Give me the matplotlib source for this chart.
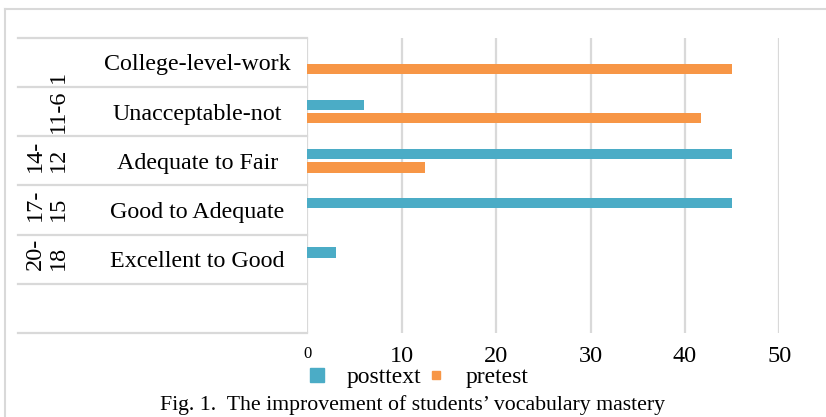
import numpy as np
import matplotlib; matplotlib.use('Agg')
import matplotlib.pyplot as plt
from matplotlib.lines import Line2D

plt.rcParams['font.family'] = ['Liberation Serif', 'DejaVu Serif']

# data (top to bottom), last row is an empty category
groups = ["1", "11-6", "14-\n12", "17-\n15", "20-\n18", ""]
categories = ["College-level-work", "Unacceptable-not", "Adequate to Fair",
              "Good to Adequate", "Excellent to Good", ""]
posttext = [0, 6, 45, 45, 3, 0]
pretest = [45, 41.7, 12.5, 0, 0, 0]
xticks = [0, 10, 20, 30, 40, 50]

c_post = '#4BACC6'
c_pre = '#F79646'
c_grid = '#D9D9D9'

fig = plt.figure(figsize=(8.26, 4.17), dpi=100)
ax = fig.add_axes([0.372, 0.2014, 0.5715, 0.7082])

n = len(categories)
y = np.arange(n)
h = 0.21
off = 0.137
ax.barh(y - off, posttext, height=h, color=c_post, zorder=3)
ax.barh(y + off, pretest, height=h, color=c_pre, zorder=3)

ax.set_xlim(0, 50)
ax.set_ylim(n - 0.5, -0.5)
ax.set_xticks(xticks)
ax.set_xticklabels([str(t) for t in xticks], fontsize=17.5)
ax.get_xticklabels()[0].set_fontsize(12)
ax.tick_params(axis='x', length=0, pad=9)
ax.grid(axis='x', color=c_grid, lw=1.6, zorder=0)
for s in ax.spines.values():
    s.set_visible(False)

# category labels
ax.set_yticks(y)
ax.set_yticklabels(categories, fontsize=17.3)
for lab in ax.get_yticklabels():
    lab.set_horizontalalignment('center')
ax.tick_params(axis='y', length=0, pad=79)

# group labels (rotated)
tr = ax.get_yaxis_transform()
for i, g in enumerate(groups):
    if g == "":
        continue
    yy = i - 0.1 if "\n" in g else i
    if g == "1":
        yy = i + 0.3
    ax.text(-0.505, yy, g, transform=tr, rotation=90, fontsize=17.5,
            ha='right', va='center', multialignment='left', linespacing=1.1)

# separators in label area
for b in np.arange(-0.5, n + 0.5):
    ax.plot([-0.613, 0], [b, b], transform=tr, color=c_grid, lw=1.6,
            clip_on=False, zorder=1)

# frame lines
fig.add_artist(Line2D([5/826, 1], [1 - 9/417, 1 - 9/417], color=c_grid, lw=1.5))
fig.add_artist(Line2D([5/826, 5/826], [0, 1 - 9/417], color=c_grid, lw=1.5))

handles = [Line2D([], [], ls='none', marker='s', markersize=9.6, color=c_post),
           Line2D([], [], ls='none', marker='s', markersize=6.3, color=c_pre)]
fig.legend(handles, ['posttext', 'pretest'], loc='center',
           bbox_to_anchor=(417/826, 1 - 377/417), ncol=2, frameon=False,
           fontsize=17, handlelength=1.0, handletextpad=0.75, columnspacing=0.15,
           borderpad=0, borderaxespad=0)

fig.text(0.5, 1 - 405/417, "Fig. 1.  The improvement of students\u2019 vocabulary mastery",
         ha='center', va='center', fontsize=15.7)

fig.savefig("out.png", dpi=100)
